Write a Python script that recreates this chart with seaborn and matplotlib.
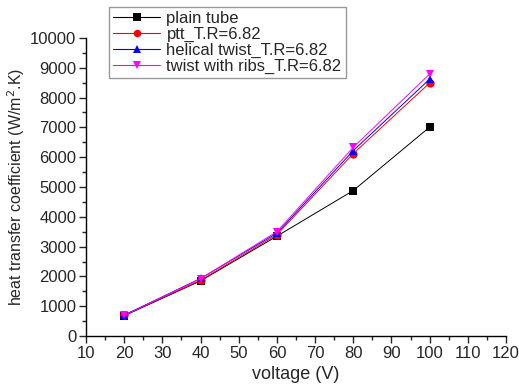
import pandas as pd
import numpy as np
import seaborn as sns
import matplotlib.pyplot as plt
from matplotlib.ticker import MultipleLocator

voltage = [20, 40, 60, 80, 100]
plain_tube = [680, 1850, 3350, 4880, 7010]
ptt = [700, 1870, 3400, 6120, 8490]
helical = [700, 1930, 3450, 6220, 8620]
twist_ribs = [690, 1920, 3500, 6330, 8790]

labels = ["plain tube", "ptt_T.R=6.82", "helical twist_T.R=6.82",
          "twist with ribs_T.R=6.82"]
colors = ["black", "red", "blue", "magenta"]
marks = ["s", "o", "^", "v"]

df = pd.concat([pd.DataFrame({"voltage": voltage, "h": vals, "series": lab})
                for vals, lab in zip([plain_tube, ptt, helical, twist_ribs], labels)])

sns.set_style("white")
plt.rcParams["font.family"] = ["Liberation Sans", "DejaVu Sans"]

fig = plt.figure(figsize=(5.19, 3.85), dpi=100)
ax = fig.add_axes([86/519, 1-336/385, 420/519, 298/385])
sns.lineplot(data=df, x="voltage", y="h", hue="series", style="series",
             hue_order=labels, style_order=labels,
             palette=dict(zip(labels, colors)), markers=dict(zip(labels, marks)),
             dashes=False, linewidth=0.7, markersize=6, markeredgewidth=0,
             ax=ax, legend=True)

ax.set_xlim(10, 120)
ax.set_ylim(0, 10000)
ax.xaxis.set_major_locator(MultipleLocator(10))
ax.xaxis.set_minor_locator(MultipleLocator(5))
ax.yaxis.set_major_locator(MultipleLocator(1000))
ax.yaxis.set_minor_locator(MultipleLocator(500))
ax.tick_params(which="major", direction="out", length=5, width=1,
               labelsize=12, bottom=True, left=True, pad=2)
ax.tick_params(which="minor", direction="out", length=3, width=1,
               bottom=True, left=True)
for s in ["top", "right"]:
    ax.spines[s].set_visible(False)
for s in ["left", "bottom"]:
    ax.spines[s].set_color("black")
    ax.spines[s].set_linewidth(1)

ax.set_xlabel("voltage (V)", fontsize=13, labelpad=4)
ax.set_ylabel("heat transfer coefficient (W/m$^2$.K)", fontsize=11.5, labelpad=2)

leg = ax.legend(loc="upper left", bbox_to_anchor=(109/519, 1-7/385),
                bbox_transform=fig.transFigure, borderaxespad=0,
                fontsize=12, frameon=True, fancybox=False, markerscale=0.9,
                handlelength=2.8, labelspacing=0.05, borderpad=0.25,
                handletextpad=0.4)
leg.get_frame().set_edgecolor("grey")
leg.get_frame().set_linewidth(1)
for line in leg.get_lines():
    line.set_linewidth(0.8)

plt.savefig("out.png", dpi=100)
